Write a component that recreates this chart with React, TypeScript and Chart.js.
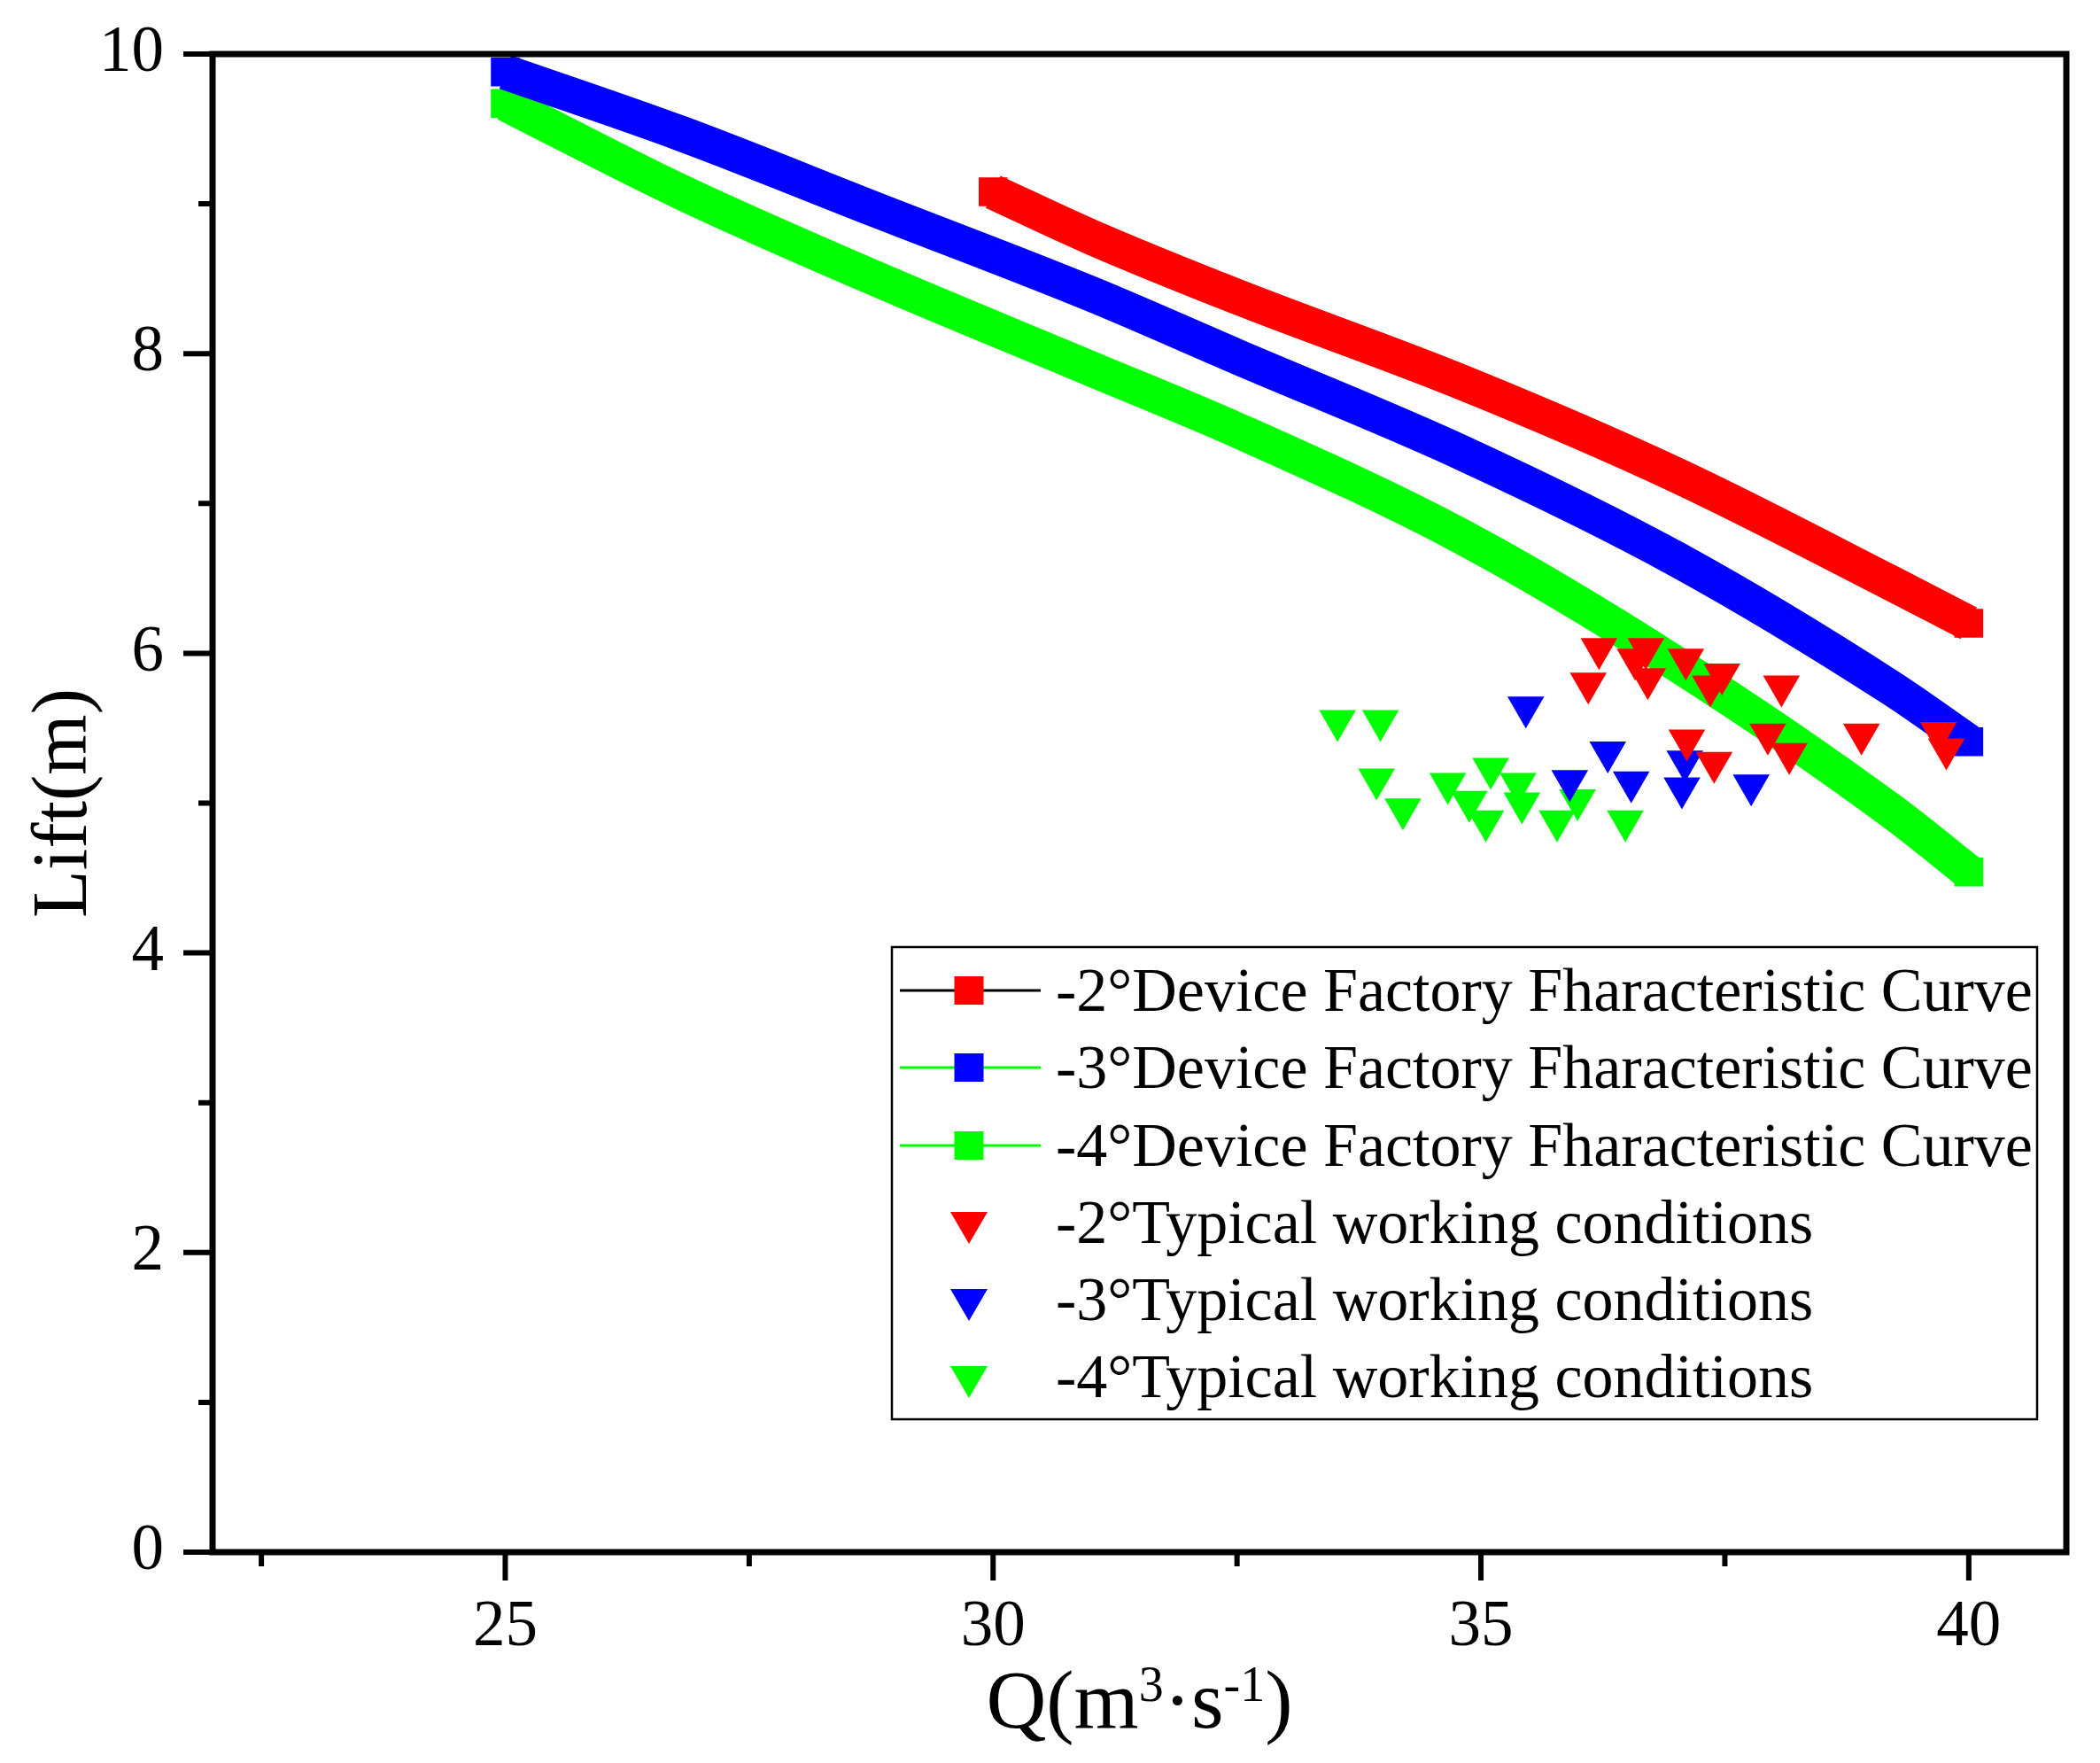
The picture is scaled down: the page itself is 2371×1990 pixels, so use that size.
import React, { useEffect, useRef } from 'react';
import { Chart, registerables } from 'chart.js';

Chart.register(...registerables);

// ---------- data ----------
const curveQ2 = [30, 31, 32.5, 34.8, 37, 39.2, 40];
const curveH2 = [9.08, 8.78, 8.38, 7.81, 7.19, 6.47, 6.2];
const curveQ3 = [25, 26.8, 28.8, 31, 32.5, 34.8, 37, 39.2, 40];
const curveH3 = [9.88, 9.47, 8.96, 8.4, 7.98, 7.34, 6.63, 5.77, 5.41];
const curveQ4 = [25, 26.8, 28.8, 31, 32.5, 34.8, 37, 39.2, 40];
const curveH4 = [9.67, 9.08, 8.5, 7.9, 7.49, 6.78, 5.93, 4.95, 4.54];

const workQ2 = [36.21, 36.69, 36.58, 36.1, 36.71, 37.1, 37.47, 37.35, 38.08, 37.94, 38.9, 39.69, 39.77, 37.11, 37.39, 38.16];
const workH2 = [6.03, 6.03, 5.96, 5.8, 5.83, 5.96, 5.86, 5.78, 5.78, 5.46, 5.46, 5.47, 5.36, 5.42, 5.27, 5.33];
const workQ3 = [35.46, 36.3, 35.91, 36.54, 37.09, 37.06, 37.77];
const workH3 = [5.64, 5.34, 5.15, 5.14, 5.28, 5.1, 5.12];
const workQ4 = [33.53, 33.97, 33.93, 34.2, 34.66, 35.1, 35.38, 34.88, 35.42, 35.05, 35.78, 35.99, 36.48];
const workH4 = [5.55, 5.55, 5.16, 4.96, 5.13, 5.23, 5.13, 5.01, 5.0, 4.88, 4.88, 5.02, 4.88];

const X_MAJOR = [25, 30, 35, 40];
const X_MINOR = [22.5, 27.5, 32.5, 37.5];
const Y_MAJOR = [0, 2, 4, 6, 8, 10];
const Y_MINOR = [1, 3, 5, 7, 9];

const LABELS = [
  '-2°Device Factory Fharacteristic Curve',
  '-3°Device Factory Fharacteristic Curve',
  '-4°Device Factory Fharacteristic Curve',
  '-2°Typical working conditions',
  '-3°Typical working conditions',
  '-4°Typical working conditions',
];
const Y_TITLE = 'Lift(m)';
const X_TITLE_PARTS = [
  { t: 'Q(m', sup: false },
  { t: '3', sup: true },
  { t: '·s', sup: false },
  { t: '-1', sup: true },
  { t: ')', sup: false },
];

const RED = '#ff0000';
const BLUE = '#0000ff';
const GREEN = '#00ff00';
const COLORS = [RED, BLUE, GREEN, RED, BLUE, GREEN];
const LEGEND_LINE_COLORS = ['#000000', GREEN, GREEN];

const FONT = '"Liberation Serif", "Times New Roman", serif';
const W = 2371;
const H = 1990;
const AREA = { left: 240, right: 2333, top: 61, bottom: 1752 };

const pts = (xs: number[], ys: number[]) => xs.map((x, i) => ({ x, y: ys[i] }));

const endRadius = (n: number) => (ctx: any) =>
  ctx.dataIndex === 0 || ctx.dataIndex === n - 1 ? 23 : 0;

const curveDs = (label: string, xs: number[], ys: number[], color: string) => ({
  label,
  data: pts(xs, ys),
  showLine: true,
  borderColor: color,
  backgroundColor: color,
  borderWidth: 40,
  borderCapStyle: 'butt',
  borderJoinStyle: 'round',
  cubicInterpolationMode: 'monotone',
  pointStyle: 'rect',
  pointRadius: endRadius(xs.length),
  pointBackgroundColor: color,
  pointBorderWidth: 0,
  order: 10,
});

const workDs = (label: string, xs: number[], ys: number[], color: string, order: number) => ({
  label,
  data: pts(xs, ys),
  showLine: false,
  pointStyle: 'triangle',
  rotation: 180,
  pointRadius: 24,
  pointBackgroundColor: color,
  pointBorderColor: color,
  pointBorderWidth: 0,
  backgroundColor: color,
  order,
});

const decorPlugin = {
  id: 'decor',
  afterDraw(chart: any) {
    const { ctx, chartArea, scales } = chart;
    const xs = scales.x;
    const ys = scales.y;
    const { left, right, top, bottom } = chartArea;
    ctx.save();
    ctx.strokeStyle = '#000';
    ctx.fillStyle = '#000';

    // frame
    ctx.lineWidth = 7;
    ctx.lineJoin = 'miter';
    ctx.strokeRect(left, top, right - left, bottom - top);

    // ticks
    ctx.lineWidth = 6;
    ctx.lineCap = 'butt';
    ctx.beginPath();
    X_MAJOR.forEach((v) => {
      const p = xs.getPixelForValue(v);
      ctx.moveTo(p, bottom);
      ctx.lineTo(p, bottom + 32);
    });
    X_MINOR.forEach((v) => {
      const p = xs.getPixelForValue(v);
      ctx.moveTo(p, bottom);
      ctx.lineTo(p, bottom + 16);
    });
    Y_MAJOR.forEach((v) => {
      const p = ys.getPixelForValue(v);
      ctx.moveTo(left, p);
      ctx.lineTo(left - 33, p);
    });
    Y_MINOR.forEach((v) => {
      const p = ys.getPixelForValue(v);
      ctx.moveTo(left, p);
      ctx.lineTo(left - 16, p);
    });
    ctx.stroke();

    // y title
    ctx.save();
    ctx.translate(97, (top + bottom) / 2);
    ctx.rotate(-Math.PI / 2);
    ctx.font = `88px ${FONT}`;
    ctx.textAlign = 'center';
    ctx.textBaseline = 'alphabetic';
    ctx.fillText(Y_TITLE, 0, 0);
    ctx.restore();

    // x title with superscripts
    const big = `94px ${FONT}`;
    const small = `56px ${FONT}`;
    let total = 0;
    X_TITLE_PARTS.forEach((p) => {
      ctx.font = p.sup ? small : big;
      total += ctx.measureText(p.t).width;
    });
    let cx = (left + right) / 2 - total / 2;
    const base = 1950;
    ctx.textAlign = 'left';
    ctx.textBaseline = 'alphabetic';
    X_TITLE_PARTS.forEach((p) => {
      ctx.font = p.sup ? small : big;
      ctx.fillText(p.t, cx, p.sup ? base - 30 : base);
      cx += ctx.measureText(p.t).width;
    });

    // legend
    const bx = 1007, by = 1069, bw = 2300 - 1007, bh = 1602 - 1069;
    ctx.fillStyle = '#fff';
    ctx.fillRect(bx, by, bw, bh);
    ctx.lineWidth = 2.5;
    ctx.strokeStyle = '#000';
    ctx.strokeRect(bx, by, bw, bh);
    const rowY = [1118, 1205, 1293, 1380, 1467, 1554];
    const mx = 1094;
    ctx.font = `70px ${FONT}`;
    LABELS.forEach((lab, i) => {
      const cy = rowY[i];
      const col = COLORS[i];
      if (i < 3) {
        ctx.strokeStyle = LEGEND_LINE_COLORS[i];
        ctx.lineWidth = 3;
        ctx.beginPath();
        ctx.moveTo(1016, cy);
        ctx.lineTo(1175, cy);
        ctx.stroke();
        ctx.fillStyle = col;
        ctx.fillRect(mx - 16.5, cy - 16, 33, 32);
      } else {
        ctx.fillStyle = col;
        ctx.beginPath();
        ctx.moveTo(mx - 21, cy - 12);
        ctx.lineTo(mx + 21, cy - 12);
        ctx.lineTo(mx, cy + 24);
        ctx.closePath();
        ctx.fill();
      }
      ctx.fillStyle = '#000';
      ctx.textAlign = 'left';
      ctx.textBaseline = 'alphabetic';
      ctx.fillText(lab, 1192, cy + 23);
    });
    ctx.restore();
  },
};

export default function App() {
  const ref = useRef<HTMLCanvasElement | null>(null);

  useEffect(() => {
    document.body.style.margin = '0';
    document.body.style.overflow = 'hidden';
    const canvas = ref.current;
    if (!canvas) return;
    const chart = new Chart(canvas, {
      type: 'scatter',
      data: {
        datasets: [
          curveDs(LABELS[0], curveQ2, curveH2, RED),
          curveDs(LABELS[1], curveQ3, curveH3, BLUE),
          curveDs(LABELS[2], curveQ4, curveH4, GREEN),
          workDs(LABELS[3], workQ2, workH2, RED, 1),
          workDs(LABELS[4], workQ3, workH3, BLUE, 2),
          workDs(LABELS[5], workQ4, workH4, GREEN, 3),
        ] as any,
      },
      options: {
        responsive: false,
        animation: false,
        devicePixelRatio: 1,
        layout: { padding: { top: AREA.top, right: W - AREA.right, left: 0, bottom: 0 } },
        plugins: {
          legend: { display: false },
          tooltip: { enabled: false },
          title: { display: false },
        },
        scales: {
          x: {
            type: 'linear',
            min: 22,
            max: 41,
            grid: { display: false, drawTicks: false },
            border: { display: false },
            ticks: {
              color: '#000',
              font: { family: FONT, size: 73 },
              padding: 42,
              maxRotation: 0,
              autoSkip: false,
            },
            afterBuildTicks: (s: any) => {
              s.ticks = X_MAJOR.map((v) => ({ value: v }));
            },
            afterFit: (s: any) => {
              s.height = H - AREA.bottom;
              s.paddingLeft = 0;
              s.paddingRight = 0;
              s.paddingTop = 0;
              s.paddingBottom = 0;
            },
          },
          y: {
            type: 'linear',
            min: 0,
            max: 10,
            grid: { display: false, drawTicks: false },
            border: { display: false },
            ticks: {
              color: '#000',
              font: { family: FONT, size: 73 },
              padding: 55,
              autoSkip: false,
            },
            afterBuildTicks: (s: any) => {
              s.ticks = Y_MAJOR.map((v) => ({ value: v }));
            },
            afterFit: (s: any) => {
              s.width = AREA.left;
              s.paddingLeft = 0;
              s.paddingRight = 0;
              s.paddingTop = 0;
              s.paddingBottom = 0;
            },
          },
        },
      } as any,
      plugins: [decorPlugin],
    });
    return () => chart.destroy();
  }, []);

  return (
    <div style={{ width: W, height: H, background: '#fff' }}>
      <canvas ref={ref} width={W} height={H} style={{ display: 'block' }} />
    </div>
  );
}
